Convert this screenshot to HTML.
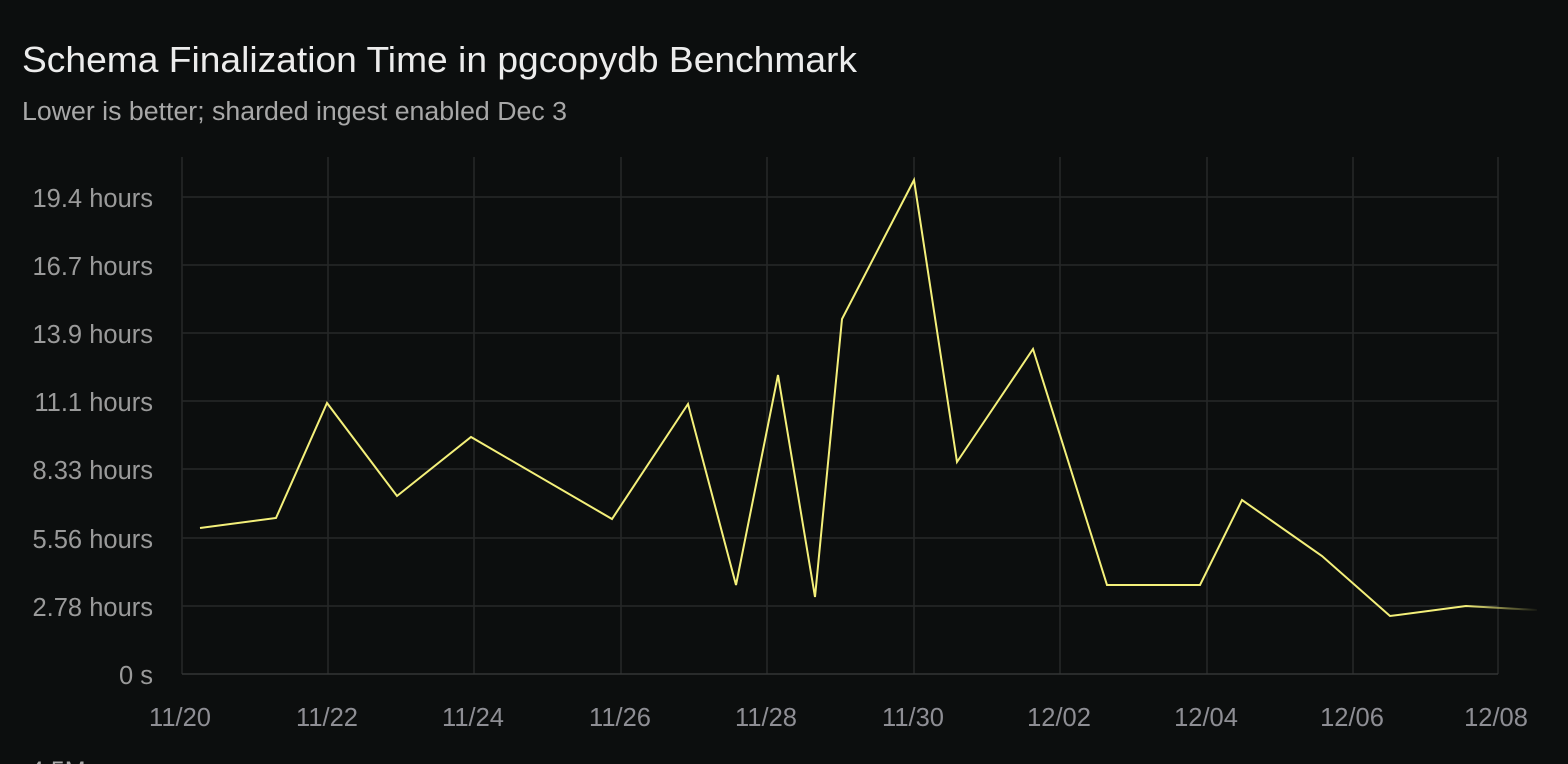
<!DOCTYPE html>
<html><head><meta charset="utf-8"><style>
html,body{margin:0;padding:0;background:#0c0e0e;width:1568px;height:764px;overflow:hidden;font-family:"Liberation Sans",sans-serif}
</style></head><body>
<svg width="1568" height="764" xmlns="http://www.w3.org/2000/svg">
<rect width="1568" height="764" fill="#0c0e0e"/>
<text x="22" y="72" fill="#ececec" font-size="36.5" font-family="Liberation Sans, sans-serif" textLength="835" lengthAdjust="spacingAndGlyphs">Schema Finalization Time in pgcopydb Benchmark</text>
<text x="22" y="120" fill="#a8a8a8" font-size="25.5" font-family="Liberation Sans, sans-serif" textLength="545" lengthAdjust="spacingAndGlyphs">Lower is better; sharded ingest enabled Dec 3</text>
<defs><linearGradient id="fade" x1="1390" x2="1540" y1="0" y2="0" gradientUnits="userSpaceOnUse"><stop offset="0.5" stop-color="#f4f07a"/><stop offset="1" stop-color="#f4f07a" stop-opacity="0"/></linearGradient></defs>
<g stroke="#262828" stroke-width="1.5">
<line x1="182" y1="197" x2="1498" y2="197"/><line x1="182" y1="265" x2="1498" y2="265"/><line x1="182" y1="333" x2="1498" y2="333"/><line x1="182" y1="401" x2="1498" y2="401"/><line x1="182" y1="469" x2="1498" y2="469"/><line x1="182" y1="538" x2="1498" y2="538"/><line x1="182" y1="606" x2="1498" y2="606"/>
<line x1="182" y1="157" x2="182" y2="674"/><line x1="328" y1="157" x2="328" y2="674"/><line x1="474" y1="157" x2="474" y2="674"/><line x1="621" y1="157" x2="621" y2="674"/><line x1="767" y1="157" x2="767" y2="674"/><line x1="914" y1="157" x2="914" y2="674"/><line x1="1060" y1="157" x2="1060" y2="674"/><line x1="1207" y1="157" x2="1207" y2="674"/><line x1="1353" y1="157" x2="1353" y2="674"/><line x1="1498" y1="157" x2="1498" y2="674"/>
</g>
<line x1="182" y1="674" x2="1498" y2="674" stroke="#333535" stroke-width="1.5"/>
<g fill="#9a9a9a" font-size="25.5" text-anchor="end" font-family="Liberation Sans, sans-serif">
<text x="153" y="207">19.4 hours</text><text x="153" y="275">16.7 hours</text><text x="153" y="343">13.9 hours</text><text x="153" y="411">11.1 hours</text><text x="153" y="479">8.33 hours</text><text x="153" y="548">5.56 hours</text><text x="153" y="616">2.78 hours</text><text x="153" y="684">0 s</text>
</g>
<g fill="#8e8e94" font-size="25.5" text-anchor="middle" font-family="Liberation Sans, sans-serif">
<text x="180" y="726">11/20</text><text x="327" y="726">11/22</text><text x="473" y="726">11/24</text><text x="620" y="726">11/26</text><text x="766" y="726">11/28</text><text x="913" y="726">11/30</text><text x="1059" y="726">12/02</text><text x="1206" y="726">12/04</text><text x="1352" y="726">12/06</text><text x="1496" y="726">12/08</text>
</g>
<polyline fill="none" stroke="url(#fade)" stroke-width="2" stroke-linejoin="miter" points="200,528 276,518 327,403 397,496 471,437 612,519 688,404 736,585 778,375 815,597 842,319 914,180 957,462 1033,349 1107,585 1200,585 1242,500 1322,556 1390,616 1466,606 1537,610"/>
<text x="30" y="779" fill="#a8a8a8" font-size="25" font-family="Liberation Sans, sans-serif">4.5M</text>
</svg>
</body></html>
